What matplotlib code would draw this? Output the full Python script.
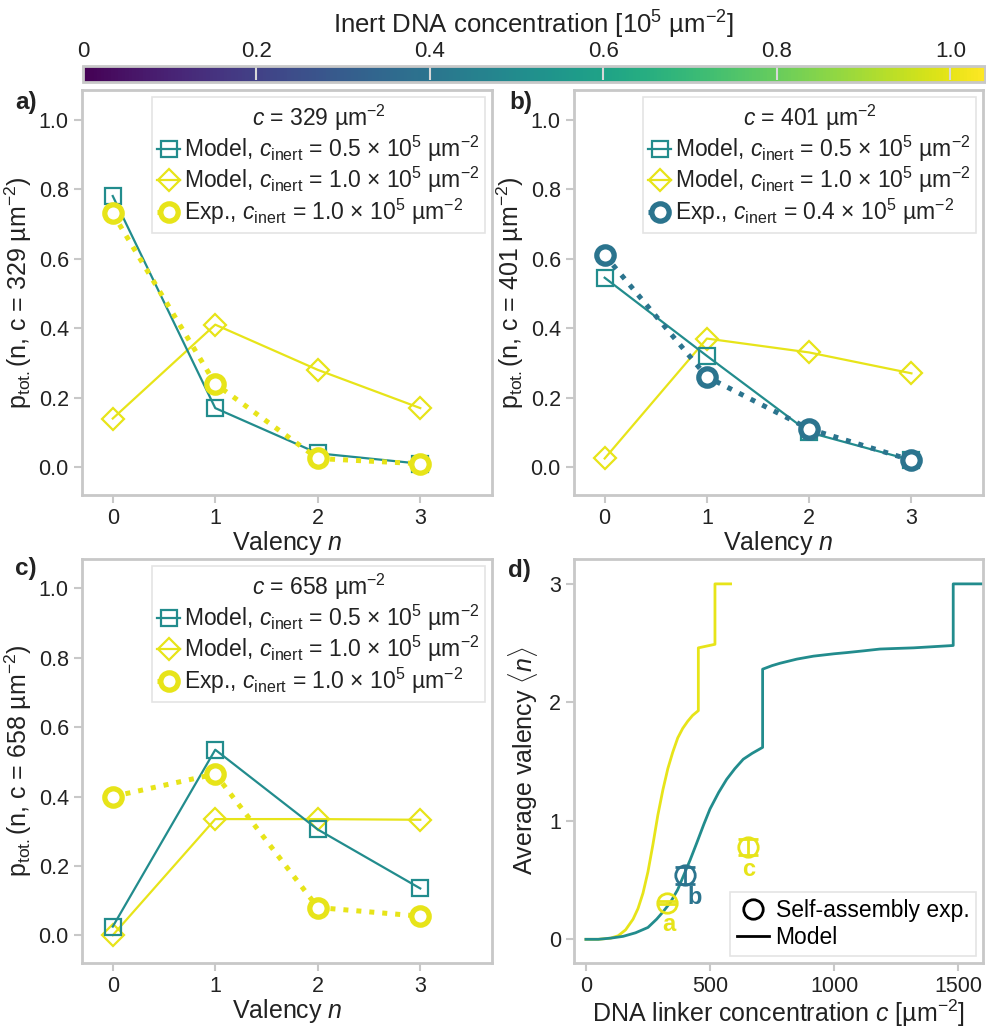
import matplotlib
matplotlib.use("Agg")
import matplotlib.pyplot as plt
from matplotlib import colors, cm

# valencia n (eje x de los paneles a-c)
valency = [0, 1, 2, 3]

# panel a, c = 329
a_model_05 = [0.78, 0.17, 0.04, 0.01]
a_model_10 = [0.14, 0.41, 0.28, 0.17]
a_exp = [0.73, 0.24, 0.025, 0.01]

# panel b, c = 401
b_model_05 = [0.545, 0.32, 0.10, 0.02]
b_model_10 = [0.025, 0.37, 0.33, 0.27]
b_exp = [0.61, 0.26, 0.11, 0.02]

# panel c, c = 658
c_model_05 = [0.025, 0.535, 0.305, 0.135]
c_model_10 = [0.0, 0.335, 0.335, 0.333]
c_exp = [0.40, 0.465, 0.08, 0.055]

# concentraciones inertes de cada serie [10^5 um^-2]
inert_model_05 = 0.5
inert_model_10 = 1.0
inert_exp = [1.0, 0.4, 1.0]
linker_conc = [329, 401, 658]

# panel d, curvas del modelo <n>(c)
d_c_10 = [0, 50, 100, 130, 160, 190, 210, 230, 250, 270, 290, 310, 330, 350,
          370, 390, 410, 430, 453, 453, 520, 520, 583]
d_n_10 = [0, 0.0, 0.01, 0.03, 0.08, 0.17, 0.26, 0.39, 0.57, 0.80, 1.05, 1.26,
          1.44, 1.58, 1.70, 1.78, 1.84, 1.89, 1.93, 2.46, 2.49, 3.0, 3.0]
d_c_05 = [0, 50, 100, 150, 200, 250, 285, 310, 340, 370, 392, 420, 446, 475,
          500, 535, 567, 600, 634, 670, 712, 712, 750, 782, 850, 917, 1000,
          1051, 1120, 1185, 1250, 1320, 1400, 1480, 1480, 1600]
d_n_05 = [0, 0.0, 0.01, 0.025, 0.055, 0.10, 0.17, 0.23, 0.31, 0.42, 0.53,
          0.67, 0.81, 0.97, 1.10, 1.24, 1.35, 1.44, 1.52, 1.57, 1.62, 2.28,
          2.31, 2.33, 2.365, 2.39, 2.41, 2.42, 2.435, 2.45, 2.455, 2.46, 2.47,
          2.48, 3.0, 3.0]

# panel d, experimentos
d_exp_c = [328, 399, 654]
d_exp_n = [0.31, 0.54, 0.78]
d_exp_err = [0.015, 0.07, 0.07]
d_exp_labels = ["a", "b", "c"]

cbar_ticks = [0, 0.2, 0.4, 0.6, 0.8, 1.0]
cbar_ticklabels = ["0", "0.2", "0.4", "0.6", "0.8", "1.0"]

plt.rcParams["font.family"] = ["Liberation Sans", "DejaVu Sans"]
plt.rcParams["mathtext.fontset"] = "custom"
plt.rcParams["mathtext.rm"] = "Liberation Sans"
plt.rcParams["mathtext.it"] = "Liberation Sans:italic"
plt.rcParams["mathtext.bf"] = "Liberation Sans:bold"
plt.rcParams["font.size"] = 15

gris = "#c8c8c8"
texto = "#222222"
fs_label = 18
fs_leg = 16.5

norm = colors.Normalize(vmin=0, vmax=1.04)
cmap = plt.get_cmap("viridis")
col_05 = cmap(norm(inert_model_05))
col_10 = cmap(norm(inert_model_10))

W, H = 986, 1027
fig = plt.figure(figsize=(W / 100, H / 100), dpi=100)


def caja(x0, y0, x1, y1):
    # convierte pixeles (arriba-izquierda) a fracciones de figura
    return [x0 / W, 1 - y1 / H, (x1 - x0) / W, (y1 - y0) / H]


def estilo(ax):
    for s in ax.spines.values():
        s.set_color(gris)
        s.set_linewidth(2)
    ax.tick_params(direction="out", length=6, width=1.5, color=gris,
                   labelcolor=texto, labelsize=15.5)


ax_a = fig.add_axes(caja(82, 90, 492, 495))
ax_b = fig.add_axes(caja(574, 90, 983, 495))
ax_c = fig.add_axes(caja(82, 559, 492, 963))
ax_d = fig.add_axes(caja(574, 559, 983, 963))

paneles = [(ax_a, a_model_05, a_model_10, a_exp),
           (ax_b, b_model_05, b_model_10, b_exp),
           (ax_c, c_model_05, c_model_10, c_exp)]

for i, (ax, m05, m10, ex) in enumerate(paneles):
    col_exp = cmap(norm(inert_exp[i]))
    ax.plot(valency, m05, "-", color=col_05, lw=1.6, marker="s", ms=12,
            mfc="none", mew=1.6, zorder=3,
            label=r"Model, $c_\mathrm{inert}$ = 0.5 $\times$ 10$^5$ µm$^{-2}$")
    ax.plot(valency, m10, "-", color=col_10, lw=1.6, marker="D", ms=11.5,
            mfc="none", mew=1.6, zorder=2,
            label=r"Model, $c_\mathrm{inert}$ = 1.0 $\times$ 10$^5$ µm$^{-2}$")
    ax.plot(valency, ex, linestyle=(0, (1, 1.6)), color=col_exp, lw=3.6,
            marker="o", ms=12.5, mfc="white", mew=3.8, zorder=4,
            label=r"Exp., $c_\mathrm{inert}$ = %.1f $\times$ 10$^5$ µm$^{-2}$" % inert_exp[i])
    ax.set_xlim(-0.3, 3.7)
    ax.set_ylim(-0.08, 1.085)
    ax.set_xticks(valency)
    ax.set_yticks([0, 0.2, 0.4, 0.6, 0.8, 1.0])
    ax.set_yticklabels(["0.0", "0.2", "0.4", "0.6", "0.8", "1.0"])
    ax.set_xlabel(r"Valency $n$", fontsize=fs_label, color=texto, labelpad=0)
    ax.set_ylabel(r"p$_\mathrm{tot.}$(n, c = %d µm$^{-2}$)" % linker_conc[i],
                  fontsize=fs_label, color=texto, labelpad=3)
    estilo(ax)
    leg = ax.legend(loc="upper right", title=r"$c$ = %d µm$^{-2}$" % linker_conc[i],
                    fontsize=fs_leg, title_fontsize=fs_leg, frameon=True,
                    fancybox=False, handlelength=1.0, handletextpad=0.15,
                    borderpad=0.25, labelspacing=0.05, borderaxespad=0.3)
    leg.get_frame().set_edgecolor("#dddddd")
    leg.get_frame().set_linewidth(1.2)
    for t in leg.get_texts():
        t.set_color(texto)
    leg.get_title().set_color(texto)

# panel d
ax_d.plot(d_c_10, d_n_10, color=col_10, lw=2)
ax_d.plot(d_c_05, d_n_05, color=col_05, lw=2)
etiqueta_offset = [(1, -16), (7, -16), (0, -16)]
for i in range(3):
    col_exp = cmap(norm(inert_exp[i]))
    ax_d.errorbar(d_exp_c[i], d_exp_n[i], yerr=d_exp_err[i], fmt="o", ms=14,
                  mfc="none", mec=col_exp, mew=2, ecolor=col_exp, elinewidth=2,
                  capsize=7, capthick=2, zorder=4)
    ax_d.annotate(d_exp_labels[i], (d_exp_c[i], d_exp_n[i]),
                  xytext=etiqueta_offset[i], textcoords="offset points",
                  color=col_exp, fontsize=17, fontweight="bold",
                  ha="center", va="center")
ax_d.plot([], [], "o", color="black", mfc="none", ms=14, mew=2,
          label="Self-assembly exp.")
ax_d.plot([], [], "-", color="black", lw=2, label="Model")
leg = ax_d.legend(loc="lower right", fontsize=fs_leg, frameon=True,
                  fancybox=False, handlelength=1.4, handletextpad=0.3,
                  borderpad=0.3, labelspacing=0.2, borderaxespad=0.3)
leg.get_frame().set_edgecolor("#dddddd")
leg.get_frame().set_linewidth(1.2)
ax_d.set_xlim(-48, 1600)
ax_d.set_ylim(-0.2, 3.21)
ax_d.set_xticks([0, 500, 1000, 1500])
ax_d.set_yticks([0, 1, 2, 3])
ax_d.set_xlabel(r"DNA linker concentration $c$ [µm$^{-2}$]", fontsize=fs_label,
                color=texto, labelpad=0)
ax_d.set_ylabel(r"Average valency $\langle n\rangle$", fontsize=fs_label,
                color=texto, labelpad=6)
estilo(ax_d)

# etiquetas de panel
for letra, (px, py) in zip(["a)", "b)", "c)", "d)"],
                           [(15, 102), (509, 102), (15, 568), (508, 570)]):
    fig.text(px / W, 1 - py / H, letra, fontsize=17.5, fontweight="bold",
             color=texto, va="center", ha="left")

# barra de color
cax = fig.add_axes(caja(83, 66, 985, 82))
sm = cm.ScalarMappable(norm=norm, cmap=cmap)
cb = fig.colorbar(sm, cax=cax, orientation="horizontal", ticklocation="top")
cb.outline.set_edgecolor(gris)
cb.outline.set_linewidth(2)
cb.set_ticks(cbar_ticks)
cb.set_ticklabels(cbar_ticklabels)
cax.tick_params(direction="in", length=10, width=1.5, color="#d8d8d8",
                labelcolor=texto, labelsize=16, pad=3)
cb.set_label(r"Inert DNA concentration [10$^5$ µm$^{-2}$]", fontsize=18.5,
             color=texto, labelpad=5)

fig.savefig("out.png", dpi=100)
